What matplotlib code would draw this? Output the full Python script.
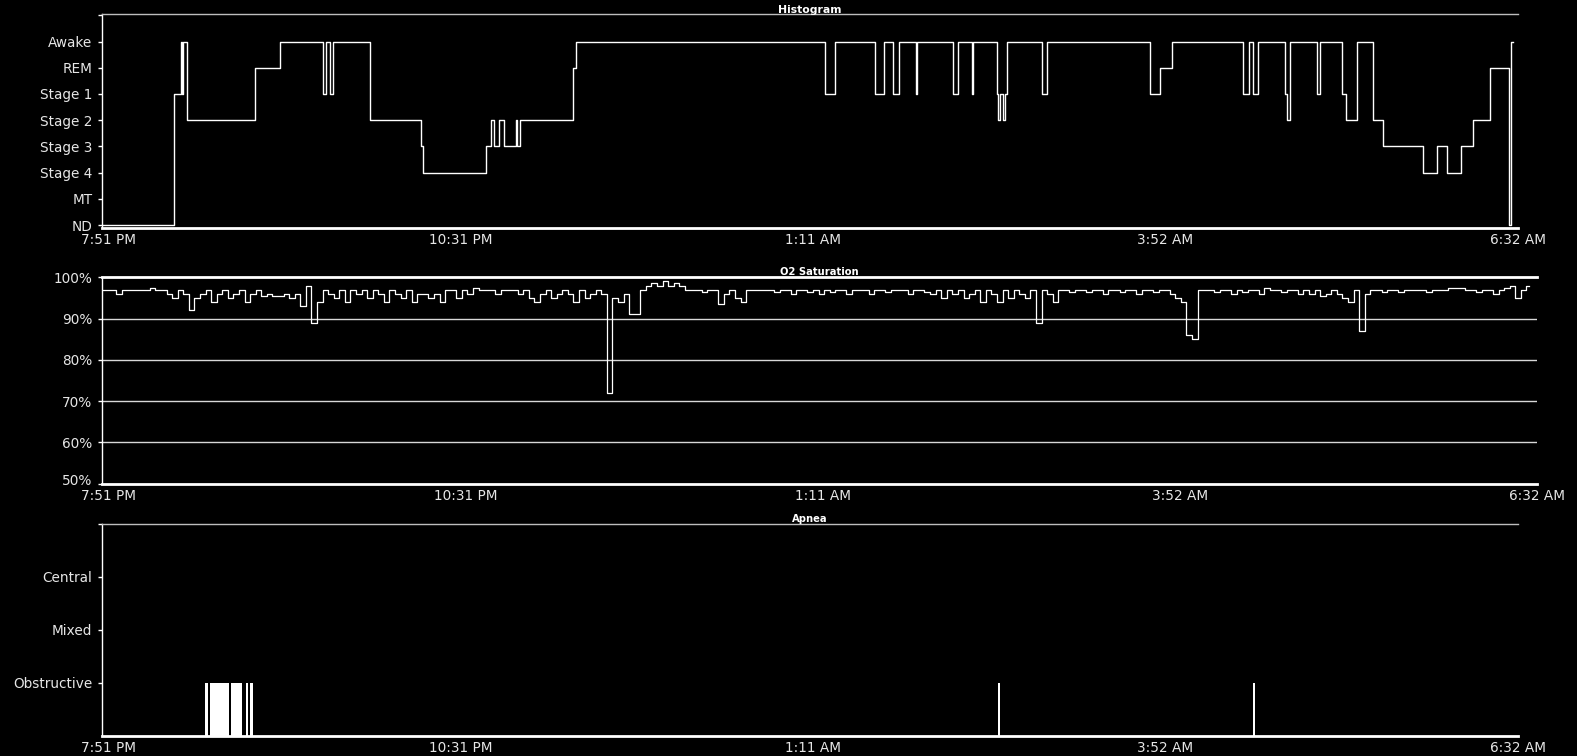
import matplotlib
matplotlib.use("Agg")
import matplotlib.pyplot as plt
import matplotlib.transforms as mtransforms

W, H = 1577, 756

# ---------------- data ----------------
time_labels = ["7:51 PM", "10:31 PM", "1:11 AM", "3:52 AM", "6:32 AM"]
tick_minutes = [0, 160.25, 320.5, 480.75, 641]

stage_labels = ["ND", "MT", "Stage 4", "Stage 3", "Stage 2", "Stage 1", "REM", "Awake"]

# hypnogram: minute after 7:51 PM where a stage starts, and the stage index
hyp_minutes = [-2.7, 30.0, 33.0, 33.6, 34.1, 36.1, 66.6, 78.2, 97.9, 99.1, 100.9, 102.3,
               119.1, 142.3, 143.2, 171.8, 174.1, 175.5, 177.7, 180.0, 185.5, 186.1,
               187.5, 211.4, 212.7, 325.9, 330.5, 348.6, 352.7, 356.8, 359.8, 367.1,
               367.6, 384.1, 386.4, 393.0, 393.3, 404.1, 404.7, 405.5, 407.0, 407.7,
               408.6, 424.5, 426.8, 473.6, 478.2, 483.6, 515.8, 518.6, 520.5, 522.6,
               534.9, 536.2, 537.3, 549.4, 550.9, 560.9, 562.7, 567.7, 574.9, 579.5,
               597.9, 604.1, 608.6, 615.0, 620.5, 628.2, 636.9, 638.0, 638.8]
hyp_stage = [0, 5, 7, 5, 7, 4, 6, 7, 5, 7, 5, 7,
             4, 3, 2, 3, 4, 3, 4, 3, 4, 3,
             4, 6, 7, 5, 7, 5, 7, 5, 7, 5,
             7, 5, 7, 5, 7, 5, 4, 5, 4, 5,
             7, 5, 7, 5, 6, 7, 5, 7, 5, 7,
             5, 4, 7, 5, 7, 5, 4, 7, 4, 3,
             2, 3, 2, 3, 4, 6, 0, 7, 7]

# O2 saturation, one sample every 2.5 min starting at -2.5 min
o2_start, o2_step = -2.5, 2.5
o2_values = [
    97, 97, 97, 96, 97, 97, 97, 97, 97, 97.5,
    97, 97, 96, 95, 97, 96, 92, 95, 96, 97,
    94, 96, 97, 95, 96, 97, 94, 96, 97, 95.5,
    96, 95.5, 95.5, 96, 95, 96, 93, 98, 89, 94,
    97, 96, 95, 97, 94, 97, 96, 97, 95, 97,
    96, 94, 97, 96, 95, 97, 94, 96, 96, 95,
    96, 94, 97, 97, 95, 97, 96, 97.5, 97, 97,
    97, 96, 97, 97, 97, 96, 97, 95, 94, 96,
    97, 95, 96, 97, 96, 94, 97, 95, 96, 97,
    96, 72, 95, 94, 96, 91, 91, 97, 98, 98.5,
    98, 99, 98, 98.5, 98, 97, 97, 97, 96.5, 97,
    97, 93.5, 96, 97, 95, 94, 97, 97, 97, 97,
    97, 96.5, 97, 97, 96, 97, 97, 96.5, 97, 96,
    97, 96.5, 97, 97, 96, 97, 97, 97, 96, 97,
    97, 96.5, 97, 97, 97, 96, 97, 97, 96.5, 96,
    97, 95, 97, 96, 97, 95, 96, 97, 94, 97,
    96, 94, 97, 95, 97, 96, 95, 97, 89, 97,
    96, 94, 97, 97, 96.5, 97, 97, 96.5, 97, 97,
    96, 97, 97, 96.5, 97, 97, 96, 97, 97, 96.5,
    97, 97, 96, 95, 94, 86, 85, 97, 97, 97,
    96.5, 97, 97, 96, 97, 96.5, 97, 97, 96, 97.5,
    97, 97, 96.5, 97, 97, 96, 97, 96, 97, 95.5,
    96, 97, 96, 95, 94, 97, 87, 96, 97, 97,
    96.5, 97, 97, 96.5, 97, 97, 97, 97, 96.5, 97,
    97, 97, 97.5, 97.5, 97.5, 97, 97, 96.5, 97, 97,
    96, 97, 97.5, 98, 95, 97, 98]
o2_minutes = [o2_start + o2_step * i for i in range(len(o2_values))]
o2_ticks = [50, 60, 70, 80, 90, 100]
o2_ticklabels = ["50%", "60%", "70%", "80%", "90%", "100%"]

apnea_labels = ["Obstructive", "Mixed", "Central"]
apnea_start = [44.1, 46.4, 55.9, 62.6, 64.5, 404.8, 520.6]
apnea_end = [45.6, 55.1, 60.8, 63.8, 66.0, 405.7, 521.5]
apnea_type = [1, 1, 1, 1, 1, 1, 1]

# ---------------- figure ----------------
plt.rcParams['font.family'] = ['DejaVu Sans']
fig = plt.figure(figsize=(W / 100, H / 100), dpi=100, facecolor='black')


def rect(l, r, t, b):
    return [l / W, 1 - b / H, (r - l) / W, (b - t) / H]


FG = 'white'
LBL = '#e6e6e6'


def style(ax, xlim):
    ax.set_facecolor('black')
    ax.set_xlim(*xlim)
    ax.spines['right'].set_visible(False)
    ax.spines['top'].set_color('#bdbdbd')
    ax.spines['top'].set_linewidth(1.0)
    ax.spines['left'].set_color(FG)
    ax.spines['left'].set_linewidth(1.0)
    ax.spines['bottom'].set_color(FG)
    ax.spines['bottom'].set_linewidth(2.0)
    ax.set_xticks(tick_minutes)
    ax.set_xticklabels(time_labels)
    ax.tick_params(axis='x', length=0, pad=3.5, labelsize=9.8, labelcolor=LBL)
    ax.tick_params(axis='y', length=3, width=1, color=FG, direction='out',
                   pad=4, labelsize=9.8, labelcolor=LBL)


# --- Histogram (hypnogram) ---
ax1 = fig.add_axes(rect(102, 1518, 14, 227.7))
style(ax1, (-2.73, 641))
ax1.step(hyp_minutes, hyp_stage, where='post', color=FG, lw=1.0)
ax1.set_ylim(-0.1, 8.05)
ax1.set_yticks(list(range(9)))
ax1.set_yticklabels(stage_labels + [""])
ax1.annotate("Histogram", xy=(0.5, 1.0), xycoords='axes fraction',
             xytext=(0, 0.8), textcoords='offset pixels', ha='center', va='baseline',
             fontsize=7.8, fontweight='bold', color=FG)

# --- O2 Saturation ---
ax2 = fig.add_axes(rect(102, 1537, 277.3, 483.7))
style(ax2, (-2.7, 640.6))
ax2.spines['top'].set_color(FG)
ax2.spines['top'].set_linewidth(2.0)
for g in o2_ticks[1:-1]:
    ax2.axhline(g, color='#d8d8d8', lw=1.0, zorder=1)
ax2.plot(o2_minutes, o2_values, color=FG, lw=0.9, drawstyle='steps-mid', zorder=3)
ax2.set_ylim(50, 100)
ax2.set_yticks(o2_ticks)
ax2.set_yticklabels(o2_ticklabels)
# the lowest label sits a little above its tick, as in the reference
lab50 = ax2.get_yticklabels()[0]
lab50.set_transform(lab50.get_transform() +
                    mtransforms.ScaledTranslation(0, 4 / 100, fig.dpi_scale_trans))
ax2.annotate("O2 Saturation", xy=(0.5, 1.0), xycoords='axes fraction',
             xytext=(0, 2.5), textcoords='offset pixels', ha='center', va='baseline',
             fontsize=7.2, fontweight='bold', color=FG)

# --- Apnea ---
ax3 = fig.add_axes(rect(102, 1518, 524, 735.7))
style(ax3, (-2.73, 641))
widths = [e - s for s, e in zip(apnea_start, apnea_end)]
ax3.bar(apnea_start, apnea_type, width=widths, align='edge', color=FG,
        edgecolor='none', linewidth=0, zorder=3)
ax3.set_ylim(0, 4)
ax3.set_yticks([1, 2, 3, 4])
ax3.set_yticklabels(apnea_labels + [""])
ax3.annotate("Apnea", xy=(0.5, 1.0), xycoords='axes fraction',
             xytext=(0, 1.5), textcoords='offset pixels', ha='center', va='baseline',
             fontsize=7.2, fontweight='bold', color=FG)

fig.savefig("out.png", dpi=100, facecolor='black')
